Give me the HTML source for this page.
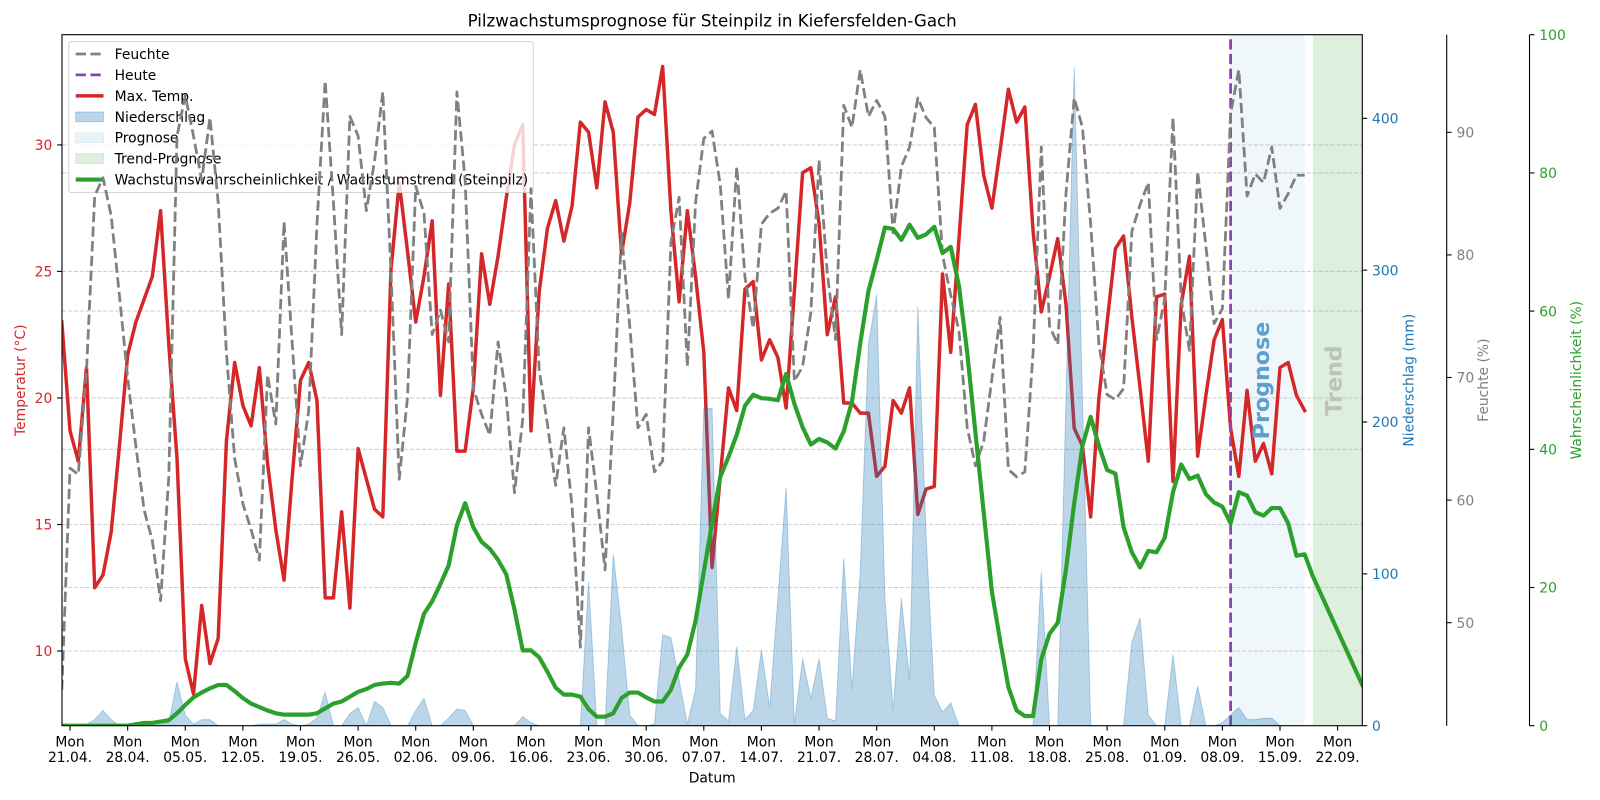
<!DOCTYPE html>
<html>
<head>
<meta charset="utf-8">
<style>
  html, body { margin: 0; padding: 0; background: #ffffff; }
  svg { display: block; }
  text { font-family: "DejaVu Sans", "Liberation Sans", sans-serif; }
</style>
</head>
<body>
<svg xmlns="http://www.w3.org/2000/svg" width="1600" height="800" viewBox="0 0 1600 800">
  <defs>
    <clipPath id="ax"><rect x="62" y="34.7" width="1300.3" height="691"/></clipPath>
  </defs>
  <rect x="0" y="0" width="1600" height="800" fill="#ffffff"/>

  <!-- Title -->
  <text x="712.2" y="26.4" text-anchor="middle" font-size="16.67" fill="#000">Pilzwachstumsprognose für Steinpilz in Kiefersfelden-Gach</text>

  <g clip-path="url(#ax)">
    <!-- spans -->
    <rect x="1230.6" y="34.7" width="74.1" height="691" fill="#eff7fa"/>
    <rect x="1312.9" y="34.7" width="52" height="691" fill="#ddefdd"/>

    <!-- grid lines (temp + probability) -->
    <g stroke="#b0b0b0" stroke-opacity="0.6" stroke-width="1.1" stroke-dasharray="4.1 1.8">
      <line x1="62" x2="1362.3" y1="144.9" y2="144.9"/>
      <line x1="62" x2="1362.3" y1="271.4" y2="271.4"/>
      <line x1="62" x2="1362.3" y1="397.95" y2="397.95"/>
      <line x1="62" x2="1362.3" y1="524.5" y2="524.5"/>
      <line x1="62" x2="1362.3" y1="651" y2="651"/>
      <line x1="62" x2="1362.3" y1="172.9" y2="172.9"/>
      <line x1="62" x2="1362.3" y1="311.1" y2="311.1"/>
      <line x1="62" x2="1362.3" y1="449.3" y2="449.3"/>
      <line x1="62" x2="1362.3" y1="587.5" y2="587.5"/>
    </g>

    <!-- Max temp (red) -->
    <g transform="matrix(8.231 0 0 -25.305 70.03 904.05)">
      <polyline fill="none" stroke="#d62728" stroke-width="3.47" stroke-linejoin="round" stroke-linecap="square" vector-effect="non-scaling-stroke"
        points="-1,23.0 0,18.7 1,17.5 2,21.2 3,12.5 4,13.0 5,14.7 6,18.1 7,21.7 8,23.0 9,23.9 10,24.8 11,27.4 12,22.1 13,17.6 14,9.7 15,8.3 16,11.8 17,9.5 18,10.5 19,18.3 20,21.4 21,19.7 22,18.9 23,21.2 24,17.4 25,14.8 26,12.8 27,16.9 28,20.7 29,21.4 30,19.9 31,12.1 32,12.1 33,15.5 34,11.7 35,18.0 36,16.8 37,15.6 38,15.3 39,25.1 40,28.5 41,25.8 42,23.0 43,24.8 44,27.0 45,20.1 46,24.5 47,17.9 48,17.9 49,20.4 50,25.7 51,23.7 52,25.6 53,27.9 54,30.0 55,30.8 56,18.7 57,24.2 58,26.7 59,27.8 60,26.2 61,27.6 62,30.9 63,30.5 64,28.3 65,31.7 66,30.5 67,25.7 68,27.7 69,31.1 70,31.4 71,31.2 72,33.1 73,27.4 74,23.8 75,27.4 76,24.8 77,21.8 78,13.3 79,16.9 80,20.4 81,19.5 82,24.3 83,24.6 84,21.5 85,22.3 86,21.6 87,19.6 88,24.2 89,28.9 90,29.1 91,26.9 92,22.5 93,24.0 94,19.8 95,19.8 96,19.4 97,19.4 98,16.9 99,17.3 100,19.9 101,19.4 102,20.4 103,15.4 104,16.4 105,16.5 106,24.9 107,21.8 108,26.3 109,30.8 110,31.6 111,28.8 112,27.5 113,29.8 114,32.2 115,30.9 116,31.5 117,26.6 118,23.4 119,24.8 120,26.3 121,23.7 122,18.8 123,18.1 124,15.3 125,20.0 126,23.0 127,25.9 128,26.4 129,23.2 130,20.4 131,17.5 132,24.0 133,24.1 134,16.7 135,23.7 136,25.6 137,17.7 138,20.1 139,22.3 140,23.1 141,18.8 142,16.9 143,20.3 144,17.5 145,18.2 146,17.0 147,21.2 148,21.4 149,20.1 150,19.5"/>
    </g>

    <!-- Heute line -->
    <line x1="1230.6" x2="1230.6" y1="725.7" y2="34.7" stroke="#8e44ad" stroke-width="2.78" stroke-dasharray="10.3 4.4"/>

    <!-- span labels -->
    <text transform="translate(1269,380.5) rotate(-90)" text-anchor="middle" font-size="22.2" font-weight="bold" fill="#5d9fcf">Prognose</text>
    <text transform="translate(1341.5,380.5) rotate(-90)" text-anchor="middle" font-size="22.2" font-weight="bold" fill="#bcc2bc">Trend</text>

    <!-- Legend -->
    <rect x="68.7" y="41.6" width="464.6" height="150.9" rx="2.8" ry="2.8" fill="#ffffff" fill-opacity="0.8" stroke="#cccccc" stroke-opacity="0.8" stroke-width="1.1"/>
    <line x1="75.7" x2="103.5" y1="54" y2="54" stroke="#808080" stroke-width="2.78" stroke-dasharray="10.3 4.4"/>
    <line x1="75.7" x2="103.5" y1="74.9" y2="74.9" stroke="#8e44ad" stroke-width="2.78" stroke-dasharray="10.3 4.4"/>
    <line x1="75.7" x2="103.5" y1="95.9" y2="95.9" stroke="#d62728" stroke-width="3.47"/>
    <rect x="75.7" y="112.0" width="27.8" height="9.7" fill="#1f77b4" fill-opacity="0.3" stroke="#1f77b4" stroke-opacity="0.3" stroke-width="1"/>
    <rect x="75.7" y="132.9" width="27.8" height="9.7" fill="#eaf4f8" stroke="#dfeef4" stroke-width="1"/>
    <rect x="75.7" y="153.8" width="27.8" height="9.7" fill="#ddefdd" stroke="#d2e9d2" stroke-width="1"/>
    <line x1="75.7" x2="103.5" y1="179.6" y2="179.6" stroke="#2ca02c" stroke-width="4.17"/>
    <g font-size="13.89" fill="#000">
      <text x="114.6" y="59">Feuchte</text>
      <text x="114.6" y="79.9">Heute</text>
      <text x="114.6" y="100.9">Max. Temp.</text>
      <text x="114.6" y="121.8">Niederschlag</text>
      <text x="114.6" y="142.7">Prognose</text>
      <text x="114.6" y="163.6">Trend-Prognose</text>
      <text x="114.6" y="184.6">Wachstumswahrscheinlichkeit / Wachstumstrend (Steinpilz)</text>
    </g>

    <!-- Precipitation fill -->
    <g transform="matrix(8.231 0 0 -1.5185 70.03 725.7)">
      <polygon fill="#1f77b4" fill-opacity="0.3" stroke="#1f77b4" stroke-opacity="0.3" stroke-width="1" vector-effect="non-scaling-stroke"
        points="-1,0 1,0 2,1 3,4 4,10 5,4 6,0 10,0 11,1 12,2 13,29 14,7 15,1 16,4 17,4 18,0 22,0 23,1 24,1 25,1 26,4 27,1 28,0 29,1 30,5 31,22 32,0 33,0 34,8 35,12 36,0 37,16 38,12 39,0 41,0 42,10 43,18 44,0 45,0 46,5 47,11 48,10 49,0 54,0 55,6 56,2 57,0 62,0 63,95 64,0 65,0 66,113 67,65 68,7 69,0 70,0 71,1 72,60 73,58 74,30 75,1 76,24 77,209 78,209 79,8 80,3 81,52 82,4 83,10 84,50 85,12 86,84 87,157 88,1 89,44 90,18 91,44 92,5 93,3 94,110 95,24 96,101 97,251 98,284 99,84 100,10 101,84 102,30 103,276 104,125 105,20 106,9 107,15 108,0 117,0 118,101 119,0 120,0 121,216 122,434 123,216 124,0 128,0 129,55 130,71 131,7 132,0 133,0 134,47 135,0 136,0 137,26 138,0 139,0 140,2 141,7 142,12 143,4 144,4 145,5 146,5 147,0 150,0"/>
    </g>

    <!-- Humidity (grey dashed) -->
    <g transform="matrix(8.231 0 0 -12.26 70.03 1235.7)">
      <polyline fill="none" stroke="#808080" stroke-width="2.78" stroke-linejoin="round" stroke-dasharray="10.3 4.4" vector-effect="non-scaling-stroke"
        points="-1,44.5 0,62.6 1,62.1 2,70.6 3,84.8 4,86.3 5,83.2 6,76.7 7,70.0 8,64.4 9,59.2 10,56.7 11,51.8 12,61.9 13,89.7 14,93.0 15,89.7 16,86.1 17,91.2 18,84.3 19,72.0 20,63.4 21,59.7 22,57.6 23,55.1 24,70.2 25,66.2 26,82.7 27,72.7 28,62.8 29,67.3 30,82.5 31,94.2 32,84.3 33,73.5 34,91.3 35,89.7 36,83.6 37,87.7 38,93.3 39,78.5 40,61.7 41,68.4 42,85.6 43,83.4 44,73.5 45,75.5 46,72.9 47,93.3 48,86.1 49,69.1 50,67.0 51,65.3 52,72.9 53,68.4 54,60.6 55,66.6 56,85.4 57,70.6 58,66.2 59,61.2 60,65.9 61,59.4 62,48.0 63,65.9 64,60.5 65,54.3 66,67.3 67,81.8 68,74.2 69,65.9 70,67.0 71,62.3 72,63.2 73,81.0 74,84.7 75,70.9 76,84.3 77,89.5 78,90.1 79,85.7 80,76.4 81,87.2 82,78.2 83,74.0 84,82.5 85,83.4 86,83.8 87,85.2 88,69.7 89,70.9 90,75.3 91,87.7 92,78.5 93,73.1 94,92.2 95,90.4 96,95.1 97,91.3 98,92.6 99,91.3 100,81.8 101,87.2 102,88.8 103,92.8 104,91.2 105,90.4 106,80.0 107,76.7 108,73.8 109,65.9 110,62.8 111,64.8 112,69.9 113,74.9 114,62.5 115,61.9 116,62.3 117,72.0 118,88.8 119,74.2 120,72.7 121,85.0 122,92.8 123,90.4 124,82.5 125,72.7 126,68.6 127,68.2 128,69.1 129,81.9 130,84.1 131,85.9 132,73.1 133,76.4 134,91.2 135,76.4 136,72.2 137,86.8 138,80.7 139,74.4 140,75.6 141,91.5 142,95.1 143,84.8 144,86.6 145,85.9 146,88.8 147,83.8 148,85.0 149,86.5 150,86.5"/>
    </g>

    <!-- Probability (green) -->
    <g transform="matrix(8.231 0 0 -6.91 70.03 725.7)">
      <polyline fill="none" stroke="#2ca02c" stroke-width="4.17" stroke-linejoin="round" stroke-linecap="square" vector-effect="non-scaling-stroke"
        points="-1,0 7,0 8,0.2 9,0.4 10,0.4 11,0.6 12,0.8 13,1.8 14,3.0 15,4.1 16,4.8 17,5.4 18,5.9 19,5.9 20,5.0 21,4.0 22,3.2 23,2.7 24,2.2 25,1.8 26,1.6 29,1.6 30,1.8 31,2.5 32,3.2 33,3.5 34,4.2 35,4.9 36,5.3 37,5.9 38,6.1 39,6.2 40,6.1 41,7.2 42,12.0 43,16.2 44,18.0 45,20.5 46,23.2 47,29.0 48,32.2 49,28.7 50,26.6 51,25.6 52,24.0 53,21.9 54,16.8 55,10.9 56,10.9 57,9.9 58,7.8 59,5.5 60,4.5 61,4.5 62,4.2 63,2.4 64,1.3 65,1.3 66,1.8 67,4.0 68,4.8 69,4.8 70,4.1 71,3.5 72,3.5 73,5.2 74,8.4 75,10.3 76,15.2 77,22.3 78,29.3 79,36.0 80,38.9 81,42.1 82,46.3 83,47.9 84,47.4 85,47.3 86,47.1 87,50.9 88,46.6 89,43.2 90,40.7 91,41.5 92,41.0 93,40.1 94,42.6 95,46.9 96,55.3 97,62.9 98,67.4 99,72.1 100,71.9 101,70.3 102,72.5 103,70.6 104,71.1 105,72.2 106,68.4 107,69.3 108,63.6 109,54.0 110,42.4 111,30.9 112,19.4 113,12.3 114,5.6 115,2.2 116,1.4 117,1.4 118,9.6 119,13.3 120,14.9 121,22.6 122,32.2 123,40.5 124,44.7 125,40.5 126,37.0 127,36.5 128,28.7 129,25.1 130,22.9 131,25.3 132,25.1 133,27.2 134,33.8 135,37.8 136,35.7 137,36.2 138,33.5 139,32.3 140,31.7 141,29.3 142,33.8 143,33.3 144,30.9 145,30.4 146,31.5 147,31.5 148,29.3 149,24.6 150,24.8 151,21.6 157,5.9"/>
    </g>
  </g>

  <!-- Axes frame -->
  <rect x="62" y="34.7" width="1300.3" height="691" fill="none" stroke="#000" stroke-width="1.1"/>
  <line x1="1446.7" x2="1446.7" y1="34.7" y2="725.7" stroke="#000" stroke-width="1.1"/>
  <line x1="1529.5" x2="1529.5" y1="34.7" y2="725.7" stroke="#000" stroke-width="1.1"/>

  <!-- Ticks -->
  <g stroke="#000" stroke-width="1.1">
    <!-- left temp -->
    <line x1="57.1" x2="62" y1="144.9" y2="144.9"/>
    <line x1="57.1" x2="62" y1="271.4" y2="271.4"/>
    <line x1="57.1" x2="62" y1="397.95" y2="397.95"/>
    <line x1="57.1" x2="62" y1="524.5" y2="524.5"/>
    <line x1="57.1" x2="62" y1="651" y2="651"/>
    <!-- precip -->
    <line x1="1362.3" x2="1367.2" y1="725.7" y2="725.7"/>
    <line x1="1362.3" x2="1367.2" y1="573.85" y2="573.85"/>
    <line x1="1362.3" x2="1367.2" y1="422" y2="422"/>
    <line x1="1362.3" x2="1367.2" y1="270.15" y2="270.15"/>
    <line x1="1362.3" x2="1367.2" y1="118.3" y2="118.3"/>
    <!-- humidity -->
    <line x1="1446.7" x2="1451.6" y1="622.7" y2="622.7"/>
    <line x1="1446.7" x2="1451.6" y1="500.1" y2="500.1"/>
    <line x1="1446.7" x2="1451.6" y1="377.5" y2="377.5"/>
    <line x1="1446.7" x2="1451.6" y1="254.9" y2="254.9"/>
    <line x1="1446.7" x2="1451.6" y1="132.3" y2="132.3"/>
    <!-- probability -->
    <line x1="1529.5" x2="1534.4" y1="725.7" y2="725.7"/>
    <line x1="1529.5" x2="1534.4" y1="587.5" y2="587.5"/>
    <line x1="1529.5" x2="1534.4" y1="449.3" y2="449.3"/>
    <line x1="1529.5" x2="1534.4" y1="311.1" y2="311.1"/>
    <line x1="1529.5" x2="1534.4" y1="172.9" y2="172.9"/>
    <line x1="1529.5" x2="1534.4" y1="34.7" y2="34.7"/>
    <!-- x ticks -->
    <line x1="70.03" x2="70.03" y1="725.7" y2="730.6"/>
    <line x1="127.65" x2="127.65" y1="725.7" y2="730.6"/>
    <line x1="185.26" x2="185.26" y1="725.7" y2="730.6"/>
    <line x1="242.88" x2="242.88" y1="725.7" y2="730.6"/>
    <line x1="300.5" x2="300.5" y1="725.7" y2="730.6"/>
    <line x1="358.1" x2="358.1" y1="725.7" y2="730.6"/>
    <line x1="415.7" x2="415.7" y1="725.7" y2="730.6"/>
    <line x1="473.3" x2="473.3" y1="725.7" y2="730.6"/>
    <line x1="530.97" x2="530.97" y1="725.7" y2="730.6"/>
    <line x1="588.6" x2="588.6" y1="725.7" y2="730.6"/>
    <line x1="646.2" x2="646.2" y1="725.7" y2="730.6"/>
    <line x1="703.8" x2="703.8" y1="725.7" y2="730.6"/>
    <line x1="761.4" x2="761.4" y1="725.7" y2="730.6"/>
    <line x1="819.05" x2="819.05" y1="725.7" y2="730.6"/>
    <line x1="876.7" x2="876.7" y1="725.7" y2="730.6"/>
    <line x1="934.3" x2="934.3" y1="725.7" y2="730.6"/>
    <line x1="991.9" x2="991.9" y1="725.7" y2="730.6"/>
    <line x1="1049.5" x2="1049.5" y1="725.7" y2="730.6"/>
    <line x1="1107.1" x2="1107.1" y1="725.7" y2="730.6"/>
    <line x1="1164.8" x2="1164.8" y1="725.7" y2="730.6"/>
    <line x1="1222.4" x2="1222.4" y1="725.7" y2="730.6"/>
    <line x1="1280.0" x2="1280.0" y1="725.7" y2="730.6"/>
    <line x1="1337.6" x2="1337.6" y1="725.7" y2="730.6"/>
  </g>

  <!-- Tick labels -->
  <g font-size="13.89" fill="#d62728" text-anchor="end">
    <text x="52.3" y="150.1">30</text>
    <text x="52.3" y="276.6">25</text>
    <text x="52.3" y="403.2">20</text>
    <text x="52.3" y="529.7">15</text>
    <text x="52.3" y="656.2">10</text>
  </g>
  <g font-size="13.89" fill="#1f77b4">
    <text x="1372" y="730.9">0</text>
    <text x="1372" y="579.05">100</text>
    <text x="1372" y="427.2">200</text>
    <text x="1372" y="275.35">300</text>
    <text x="1372" y="123.5">400</text>
  </g>
  <g font-size="13.89" fill="#808080">
    <text x="1456.5" y="627.9">50</text>
    <text x="1456.5" y="505.3">60</text>
    <text x="1456.5" y="382.7">70</text>
    <text x="1456.5" y="260.1">80</text>
    <text x="1456.5" y="137.5">90</text>
  </g>
  <g font-size="13.89" fill="#2ca02c">
    <text x="1539.3" y="730.9">0</text>
    <text x="1539.3" y="592.7">20</text>
    <text x="1539.3" y="454.5">40</text>
    <text x="1539.3" y="316.3">60</text>
    <text x="1539.3" y="178.1">80</text>
    <text x="1539.3" y="39.9">100</text>
  </g>

  <!-- X tick labels -->
  <g font-size="13.89" fill="#000" text-anchor="middle">
    <text x="70.03" y="746.5">Mon</text><text x="70.03" y="762">21.04.</text>
    <text x="127.65" y="746.5">Mon</text><text x="127.65" y="762">28.04.</text>
    <text x="185.26" y="746.5">Mon</text><text x="185.26" y="762">05.05.</text>
    <text x="242.88" y="746.5">Mon</text><text x="242.88" y="762">12.05.</text>
    <text x="300.5" y="746.5">Mon</text><text x="300.5" y="762">19.05.</text>
    <text x="358.1" y="746.5">Mon</text><text x="358.1" y="762">26.05.</text>
    <text x="415.7" y="746.5">Mon</text><text x="415.7" y="762">02.06.</text>
    <text x="473.3" y="746.5">Mon</text><text x="473.3" y="762">09.06.</text>
    <text x="530.97" y="746.5">Mon</text><text x="530.97" y="762">16.06.</text>
    <text x="588.6" y="746.5">Mon</text><text x="588.6" y="762">23.06.</text>
    <text x="646.2" y="746.5">Mon</text><text x="646.2" y="762">30.06.</text>
    <text x="703.8" y="746.5">Mon</text><text x="703.8" y="762">07.07.</text>
    <text x="761.4" y="746.5">Mon</text><text x="761.4" y="762">14.07.</text>
    <text x="819.05" y="746.5">Mon</text><text x="819.05" y="762">21.07.</text>
    <text x="876.7" y="746.5">Mon</text><text x="876.7" y="762">28.07.</text>
    <text x="934.3" y="746.5">Mon</text><text x="934.3" y="762">04.08.</text>
    <text x="991.9" y="746.5">Mon</text><text x="991.9" y="762">11.08.</text>
    <text x="1049.5" y="746.5">Mon</text><text x="1049.5" y="762">18.08.</text>
    <text x="1107.1" y="746.5">Mon</text><text x="1107.1" y="762">25.08.</text>
    <text x="1164.8" y="746.5">Mon</text><text x="1164.8" y="762">01.09.</text>
    <text x="1222.4" y="746.5">Mon</text><text x="1222.4" y="762">08.09.</text>
    <text x="1280.0" y="746.5">Mon</text><text x="1280.0" y="762">15.09.</text>
    <text x="1337.6" y="746.5">Mon</text><text x="1337.6" y="762">22.09.</text>
  </g>

  <!-- Axis labels -->
  <text x="712.2" y="782.5" text-anchor="middle" font-size="13.89" fill="#000">Datum</text>
  <text transform="translate(24.8,380.2) rotate(-90)" text-anchor="middle" font-size="13.89" fill="#d62728">Temperatur (°C)</text>
  <text transform="translate(1413.5,380.2) rotate(-90)" text-anchor="middle" font-size="13.89" fill="#1f77b4">Niederschlag (mm)</text>
  <text transform="translate(1488,380.2) rotate(-90)" text-anchor="middle" font-size="13.89" fill="#808080">Feuchte (%)</text>
  <text transform="translate(1581,380.2) rotate(-90)" text-anchor="middle" font-size="13.89" fill="#2ca02c">Wahrscheinlichkeit (%)</text>
</svg>
</body>
</html>
